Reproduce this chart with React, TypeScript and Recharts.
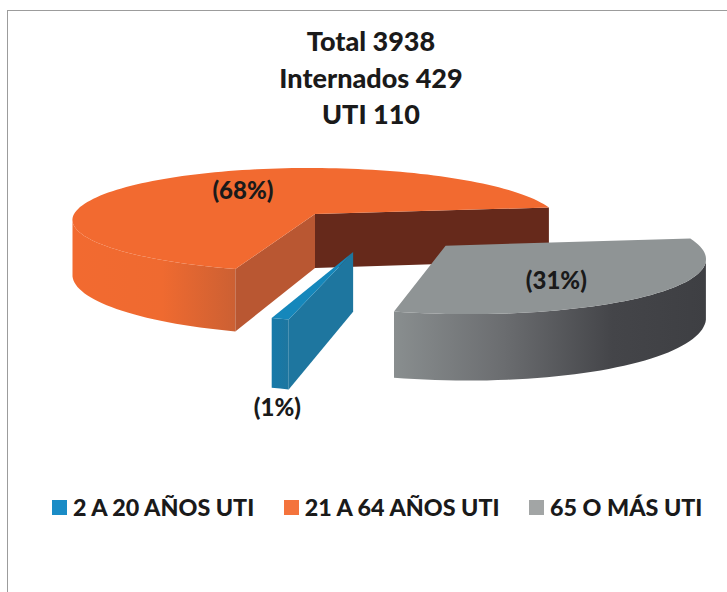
import { Legend, Pie, PieChart } from "recharts";

const TITLE_LINES = ["Total 3938", "Internados 429", "UTI 110"];
const LEGEND_NAMES = ["2 A 20 AÑOS UTI", "21 A 64 AÑOS UTI", "65 O MÁS UTI"];
const LEGEND_COLORS = ["#1a8cc6", "#f4733c", "#a2a5a5"];

// drawn in this order, the thin blue slice has to land on top of the orange one
const SLICE_NAMES = ["21 A 64 AÑOS UTI", "65 O MÁS UTI", "2 A 20 AÑOS UTI"];
const SLICE_VALUES = [68, 31, 1];

const FONT = "Lato, Carlito, sans-serif";
const WIDTH = 727;
const HEIGHT = 592;

// fake 3D camera: the flat pie plane goes through a perspective divide
const PERSPECTIVE = 0.148;
const SCALE_X = 239;
const SCALE_Y = 52.8;
const DEPTH = 54;

interface SliceStyle {
  top: string;
  wall: string;
  startSide: string;
  endSide: string;
  shift: [number, number];
  reachX: number;
  reachFront: number;
  reachBack: number;
  skew: number;
  depthScale: number;
  labelRadius: number;
  labelDy: number;
  labelBelow: boolean;
}

const STYLES: Record<string, SliceStyle> = {
  "21 A 64 AÑOS UTI": {
    top: "#f26a30",
    wall: "url(#orangeWall)",
    startSide: "#b95732",
    endSide: "#66291b",
    shift: [0, 0],
    reachX: 1.008,
    reachFront: 0.95,
    reachBack: 1,
    skew: 0.025,
    depthScale: 1,
    labelRadius: 0.5,
    labelDy: -5,
    labelBelow: false,
  },
  "65 O MÁS UTI": {
    top: "#8f9495",
    wall: "url(#greyWall)",
    startSide: "#5a5c5f",
    endSide: "#5a5c5f",
    shift: [0.502, 0.551],
    reachX: 0.975,
    reachFront: 0.93,
    reachBack: 0.93,
    skew: 0,
    depthScale: 0.96,
    labelRadius: 0.55,
    labelDy: 6,
    labelBelow: false,
  },
  "2 A 20 AÑOS UTI": {
    top: "#1587bb",
    wall: "url(#blueWall)",
    startSide: "#1e769f",
    endSide: "#1e769f",
    shift: [0.144, 0.65],
    reachX: 0.92,
    reachFront: 0.92,
    reachBack: 0.92,
    skew: 0,
    depthScale: 1,
    labelRadius: 0.95,
    labelDy: 15,
    labelBelow: true,
  },
};

const rows = SLICE_NAMES.map((name, i) => ({ name, value: SLICE_VALUES[i] }));

function project(cx: number, cy: number, u: number, v: number, depthScale = 1) {
  const w = 1 - PERSPECTIVE * v;
  return { x: cx + (SCALE_X * u) / w, y: cy + (SCALE_Y * v) / w, depth: (DEPTH * depthScale) / w };
}

function toPath(points: { x: number; y: number }[]) {
  return points.map((p, i) => `${i ? "L" : "M"}${p.x.toFixed(1)} ${p.y.toFixed(1)}`).join(" ") + " Z";
}

function down(p: { x: number; y: number; depth: number }) {
  return { x: p.x, y: p.y + p.depth, depth: p.depth };
}

function Slice3D(props: any) {
  const { cx, cy, startAngle, endAngle, name } = props;
  const style = STYLES[name];
  const [su, sv] = style.shift;
  const rim = (deg: number) => {
    const a = (deg * Math.PI) / 180;
    const s = -Math.sin(a);
    const rel = s * (s > 0 ? style.reachFront : style.reachBack);
    return { u: su + style.reachX * Math.cos(a) + style.skew * rel, v: sv + rel, cos: Math.cos(a), rel };
  };
  const place = (p: { u: number; v: number }) => project(cx, cy, p.u, p.v, style.depthScale);

  const steps = Math.max(2, Math.ceil(Math.abs(endAngle - startAngle) / 2));
  const arc = [];
  for (let i = 0; i <= steps; i++) arc.push(rim(startAngle + ((endAngle - startAngle) * i) / steps));

  const apex = project(cx, cy, su, sv, style.depthScale);
  const arcPts = arc.map(place);

  // find where the whole projected ring turns round on screen; the rim wall
  // only exists between those two points, along the front
  let left = { x: Infinity, rel: 0 };
  let right = { x: -Infinity, rel: 0 };
  for (let deg = 0; deg < 360; deg += 1) {
    const p = rim(deg);
    const { x } = place(p);
    if (x < left.x) left = { x, rel: p.rel };
    if (x > right.x) right = { x, rel: p.rel };
  }
  const runs: (typeof arcPts)[] = [];
  let run: typeof arcPts = [];
  arc.forEach((a, i) => {
    if (a.rel >= (a.cos < 0 ? left.rel : right.rel)) {
      run.push(arcPts[i]);
    } else if (run.length) {
      runs.push(run);
      run = [];
    }
  });
  if (run.length) runs.push(run);

  const mid = rim((startAngle + endAngle) / 2);
  const midPt = place({ u: su + (mid.u - su) * 0.9, v: sv + (mid.v - sv) * 0.9 });

  // a side wall only shows when the slice lies above its edge on screen
  const sideShows = (end: { x: number; y: number }) => {
    const slope = (end.y - apex.y) / (end.x - apex.x);
    return midPt.y < apex.y + slope * (midPt.x - apex.x);
  };
  const first = arcPts[0];
  const last = arcPts[arcPts.length - 1];

  return (
    <g>
      {runs.map((r, i) => (
        <path key={i} d={toPath([...r, ...[...r].reverse().map(down)])} fill={style.wall} />
      ))}
      {sideShows(last) && <path d={toPath([apex, last, down(last), down(apex)])} fill={style.endSide} />}
      {sideShows(first) && <path d={toPath([apex, first, down(first), down(apex)])} fill={style.startSide} />}
      <path d={toPath([apex, ...arcPts])} fill={style.top} />
    </g>
  );
}

function SliceLabel(props: any) {
  const { cx, cy, midAngle, name, value } = props;
  const style = STYLES[name];
  const a = (midAngle * Math.PI) / 180;
  const p = project(
    cx,
    cy,
    style.shift[0] + style.labelRadius * Math.cos(a),
    style.shift[1] - style.labelRadius * Math.sin(a),
  );
  return (
    <text
      x={p.x}
      y={p.y + (style.labelBelow ? p.depth : 0) + style.labelDy}
      textAnchor="middle"
      dominantBaseline="central"
      fontFamily={FONT}
      fontWeight={900}
      fontSize={24}
      fill="#1a1a1a"
    >
      {`(${value}%)`}
    </text>
  );
}

function LegendRow() {
  return (
    <div style={{ display: "flex", gap: 29.5, fontFamily: FONT, fontWeight: 900, fontSize: 23.3, color: "#1a1a1a" }}>
      {LEGEND_NAMES.map((name, i) => (
        <div key={name} style={{ display: "flex", alignItems: "center", gap: 6, whiteSpace: "nowrap" }}>
          <span style={{ width: 15, height: 15, background: LEGEND_COLORS[i], display: "inline-block" }} />
          {name}
        </div>
      ))}
    </div>
  );
}

export default function App() {
  return (
    <div style={{ position: "fixed", left: 0, top: 0, width: WIDTH, height: HEIGHT, background: "#fff", overflow: "hidden" }}>
      <div
        style={{
          position: "absolute",
          left: 7,
          top: 10,
          width: WIDTH,
          height: HEIGHT,
          borderLeft: "1px solid #9c9c9c",
          borderTop: "1px solid #9c9c9c",
        }}
      />
      <PieChart width={WIDTH} height={HEIGHT} margin={{ top: 0, right: 0, bottom: 0, left: 0 }}>
        <defs>
          <linearGradient id="orangeWall" x1="0" y1="0" x2="1" y2="0">
            <stop offset="0" stopColor="#f26a30" />
            <stop offset="0.55" stopColor="#ef6a30" />
            <stop offset="1" stopColor="#cc6033" />
          </linearGradient>
          <linearGradient id="greyWall" x1="0" y1="0" x2="1" y2="0">
            <stop offset="0" stopColor="#898e8f" />
            <stop offset="0.35" stopColor="#6b6d70" />
            <stop offset="0.7" stopColor="#444549" />
            <stop offset="1" stopColor="#3e3f43" />
          </linearGradient>
          <linearGradient id="blueWall" x1="0" y1="0" x2="1" y2="0">
            <stop offset="0" stopColor="#1579a9" />
            <stop offset="1" stopColor="#1e769f" />
          </linearGradient>
        </defs>
        {TITLE_LINES.map((line, i) => (
          <text
            key={line}
            x={371}
            y={40.5 + i * 36.5}
            textAnchor="middle"
            dominantBaseline="central"
            fontFamily={FONT}
            fontWeight={900}
            fontSize={27}
            fill="#1a1a1a"
          >
            {line}
          </text>
        ))}
        <Pie
          data={rows}
          dataKey="value"
          nameKey="name"
          cx={315}
          cy={214}
          outerRadius={100}
          startAngle={252}
          endAngle={-108}
          stroke="none"
          shape={Slice3D}
          label={SliceLabel}
          labelLine={false}
          isAnimationActive={false}
        />
        <Legend
          content={LegendRow}
          layout="horizontal"
          align="left"
          verticalAlign="bottom"
          wrapperStyle={{ left: 52, top: 493, bottom: "auto", width: 670 }}
        />
      </PieChart>
    </div>
  );
}
